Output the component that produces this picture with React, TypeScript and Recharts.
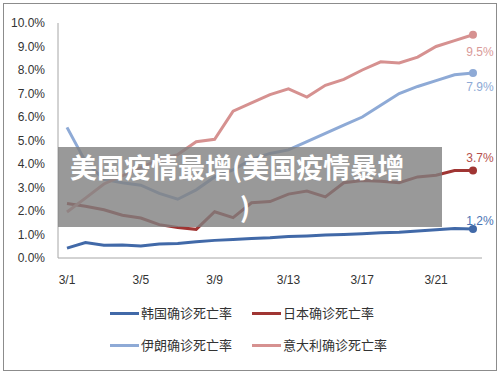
import React from 'react';
import { LineChart, Line, XAxis, YAxis } from 'recharts';

const dates = ['3/1','3/2','3/3','3/4','3/5','3/6','3/7','3/8','3/9','3/10','3/11','3/12','3/13','3/14','3/15','3/16','3/17','3/18','3/19','3/20','3/21','3/22','3/23'];
const korea = [0.42,0.66,0.54,0.55,0.51,0.6,0.62,0.69,0.75,0.79,0.83,0.86,0.91,0.94,0.98,1.0,1.03,1.07,1.1,1.15,1.2,1.25,1.23];
const japan = [2.32,2.2,2.05,1.82,1.7,1.42,1.3,1.22,1.97,1.72,2.35,2.4,2.72,2.85,2.6,3.2,3.3,3.27,3.2,3.45,3.52,3.72,3.72];
const iran = [5.56,4.1,3.35,3.2,3.1,2.75,2.5,2.9,3.45,3.75,4.2,4.45,4.6,4.95,5.3,5.65,6.0,6.5,7.0,7.3,7.55,7.8,7.87];
const italy = [1.96,2.55,3.15,3.5,3.85,4.2,4.4,4.95,5.05,6.25,6.6,6.95,7.2,6.85,7.35,7.6,8.0,8.35,8.3,8.55,9.0,9.25,9.5];
const yTicks = [0,1,2,3,4,5,6,7,8,9,10];
const endLabels = { korea: '1.2%', japan: '3.7%', iran: '7.9%', italy: '9.5%' };
const seriesNames = { korea: '韩国确诊死亡率', japan: '日本确诊死亡率', iran: '伊朗确诊死亡率', italy: '意大利确诊死亡率' };
const overlayLine1 = '美国疫情最增(美国疫情暴增';
const overlayLine2 = ')';

const colors = { korea: '#4169a8', japan: '#a03533', iran: '#8eaad6', italy: '#d69190' };
const labelColors = { korea: '#4a74b4', japan: '#b5504d', iran: '#8eaad6', italy: '#d99a99' };
const labelDy = { korea: -8, japan: -13, iran: 14, italy: 17 };

const data = dates.map((d, i) => ({ date: d, korea: korea[i], japan: japan[i], iran: iran[i], italy: italy[i] }));
const last = dates.length - 1;

const makeDot = (key: string) => (props: any) => {
  const { cx, cy, index } = props;
  if (index !== last) return <g key={`d-${key}-${index}`} />;
  return <circle key={`d-${key}-${index}`} cx={cx} cy={cy} r={4} fill={(colors as any)[key]} stroke="none" />;
};

const makeLabel = (key: string) => (props: any) => {
  const { x, y, index } = props;
  if (index !== last) return <g key={`l-${key}-${index}`} />;
  return (
    <text key={`l-${key}-${index}`} x={x + 7} y={y + (labelDy as any)[key]} textAnchor="middle" dominantBaseline="central"
      fontSize={12} fontFamily="Liberation Sans, Arial, sans-serif" fill={(labelColors as any)[key]}>
      {(endLabels as any)[key]}
    </text>
  );
};

const order = ['korea', 'japan', 'iran', 'italy'];

export default function App() {
  return (
    <div style={{ position: 'absolute', left: 0, top: 0, width: 500, height: 375, background: '#fff', overflow: 'hidden' }}>
      <div style={{ position: 'absolute', left: 3, top: 3, width: 492, height: 366, border: '1px solid #8c8c8c' }} />
      <div style={{ position: 'absolute', left: 0, top: 0 }}>
        <LineChart width={500} height={375} data={data} margin={{ top: 23, right: 18, bottom: 87, left: 8 }}>
          <XAxis dataKey="date" interval={3} tickLine={false} tickSize={0} tickMargin={17} height={30}
            padding={{ left: 9, right: 9 }} axisLine={{ stroke: '#a6a6a6', strokeWidth: 1 }}
            tick={{ fontSize: 12, fill: '#333', fontFamily: 'Liberation Sans, Arial, sans-serif' }} />
          <YAxis domain={[0, 10]} ticks={yTicks} width={50} tickLine={false} tickSize={0} tickMargin={13}
            axisLine={{ stroke: '#a6a6a6', strokeWidth: 1 }} tickFormatter={(v: number) => v.toFixed(1) + '%'}
            tick={{ fontSize: 12, fill: '#333', fontFamily: 'Liberation Sans, Arial, sans-serif' }} />
          {order.map((k) => (
            <Line key={k} type="linear" dataKey={k} stroke={(colors as any)[k]} strokeWidth={3}
              dot={makeDot(k)} activeDot={false} label={makeLabel(k)} isAnimationActive={false} />
          ))}
        </LineChart>
      </div>
      <div style={{ position: 'absolute', left: 58, top: 147, width: 384, height: 80, background: 'rgba(128,128,128,0.8)' }}>
        <div style={{ position: 'absolute', left: 12, top: 0, lineHeight: '40px', height: 40, whiteSpace: 'nowrap', color: '#fff', fontWeight: 700, fontSize: 27, fontFamily: '"Noto Sans CJK SC", sans-serif' }}>{overlayLine1}</div>
        <div style={{ position: 'absolute', left: 182, top: 40, lineHeight: '40px', height: 40, whiteSpace: 'nowrap', color: '#fff', fontWeight: 700, fontSize: 27, fontFamily: '"Noto Sans CJK SC", sans-serif' }}>{overlayLine2}</div>
      </div>
      {[['korea', 110, 313], ['japan', 252, 313], ['iran', 110, 345], ['italy', 252, 345]].map(([k, x, y]: any) => (
        <div key={k} style={{ position: 'absolute', left: x, top: y - 10, height: 20, display: 'flex', alignItems: 'center', whiteSpace: 'nowrap' }}>
          <div style={{ width: 29, height: 3, background: (colors as any)[k], marginRight: 2 }} />
          <span style={{ fontSize: 13, color: '#333', fontFamily: '"Noto Sans CJK SC", sans-serif', lineHeight: '20px' }}>{(seriesNames as any)[k]}</span>
        </div>
      ))}
    </div>
  );
}
